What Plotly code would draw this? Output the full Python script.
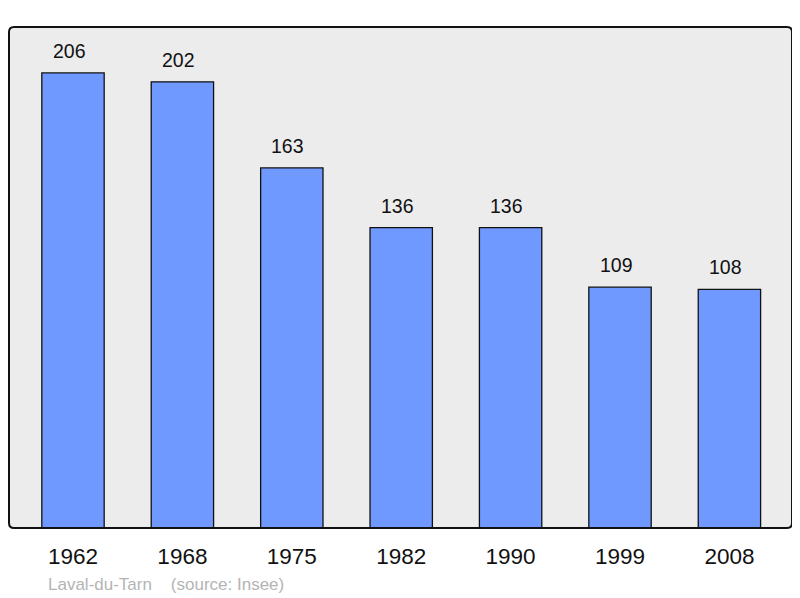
import plotly.graph_objects as go

years = ["1962", "1968", "1975", "1982", "1990", "1999", "2008"]
population = [206, 202, 163, 136, 136, 109, 108]
footer = "Laval-du-Tarn    (source: Insee)"

# The page places the figure 8px from the top-left of the window,
# so the figure is sized and offset to match the 800x598 window.
W, H = 792, 590
L, R, T, B = 1, 8, 19, 70
PW, PH = W - L - R, H - T - B

fig = go.Figure()
fig.add_trace(go.Bar(
    x=list(range(len(years))), y=population,
    marker=dict(color="#7099ff", line=dict(color="#111111", width=1.3)),
    width=0.57, hoverinfo="skip",
))
for i, v in enumerate(population):
    fig.add_annotation(x=i, y=v, text=str(v), showarrow=False, yanchor="bottom",
                       yshift=9, xshift=-4,
                       font=dict(family="Liberation Sans, Arial", size=19.5, color="#111111"))

# rounded frame
r = 5 / PW
ry = 5 / PH
path = (f"M {r},0 L {1-r},0 Q 1,0 1,{ry} L 1,{1-ry} Q 1,1 {1-r},1 L {r},1 Q 0,1 0,{1-ry} "
        f"L 0,{ry} Q 0,0 {r},0 Z")
fig.add_shape(type="path", path=path, xref="paper", yref="paper",
              line=dict(color="#111111", width=2), layer="above")

fig.add_annotation(xref="paper", yref="paper", text=footer, showarrow=False,
                   x=(46 - 9) / PW, y=-(584 - 528) / PH,
                   xanchor="left", yanchor="middle",
                   font=dict(family="Liberation Sans, Arial", size=17, color="#b4b4b4"))

fig.update_layout(
    width=W, height=H,
    margin=dict(l=L, r=R, t=T, b=B),
    paper_bgcolor="white", plot_bgcolor="#ececec",
    showlegend=False,
    xaxis=dict(range=[-0.585, 6.572], tickmode="array", tickvals=list(range(len(years))),
               ticktext=years, showgrid=False, zeroline=False, ticks="",
               ticklabelstandoff=12,
               tickfont=dict(family="Liberation Sans, Arial", size=22.5, color="#111111")),
    yaxis=dict(range=[0, 226.8], showgrid=False, zeroline=False, showticklabels=False, ticks=""),
)
fig.write_html("out.html")
